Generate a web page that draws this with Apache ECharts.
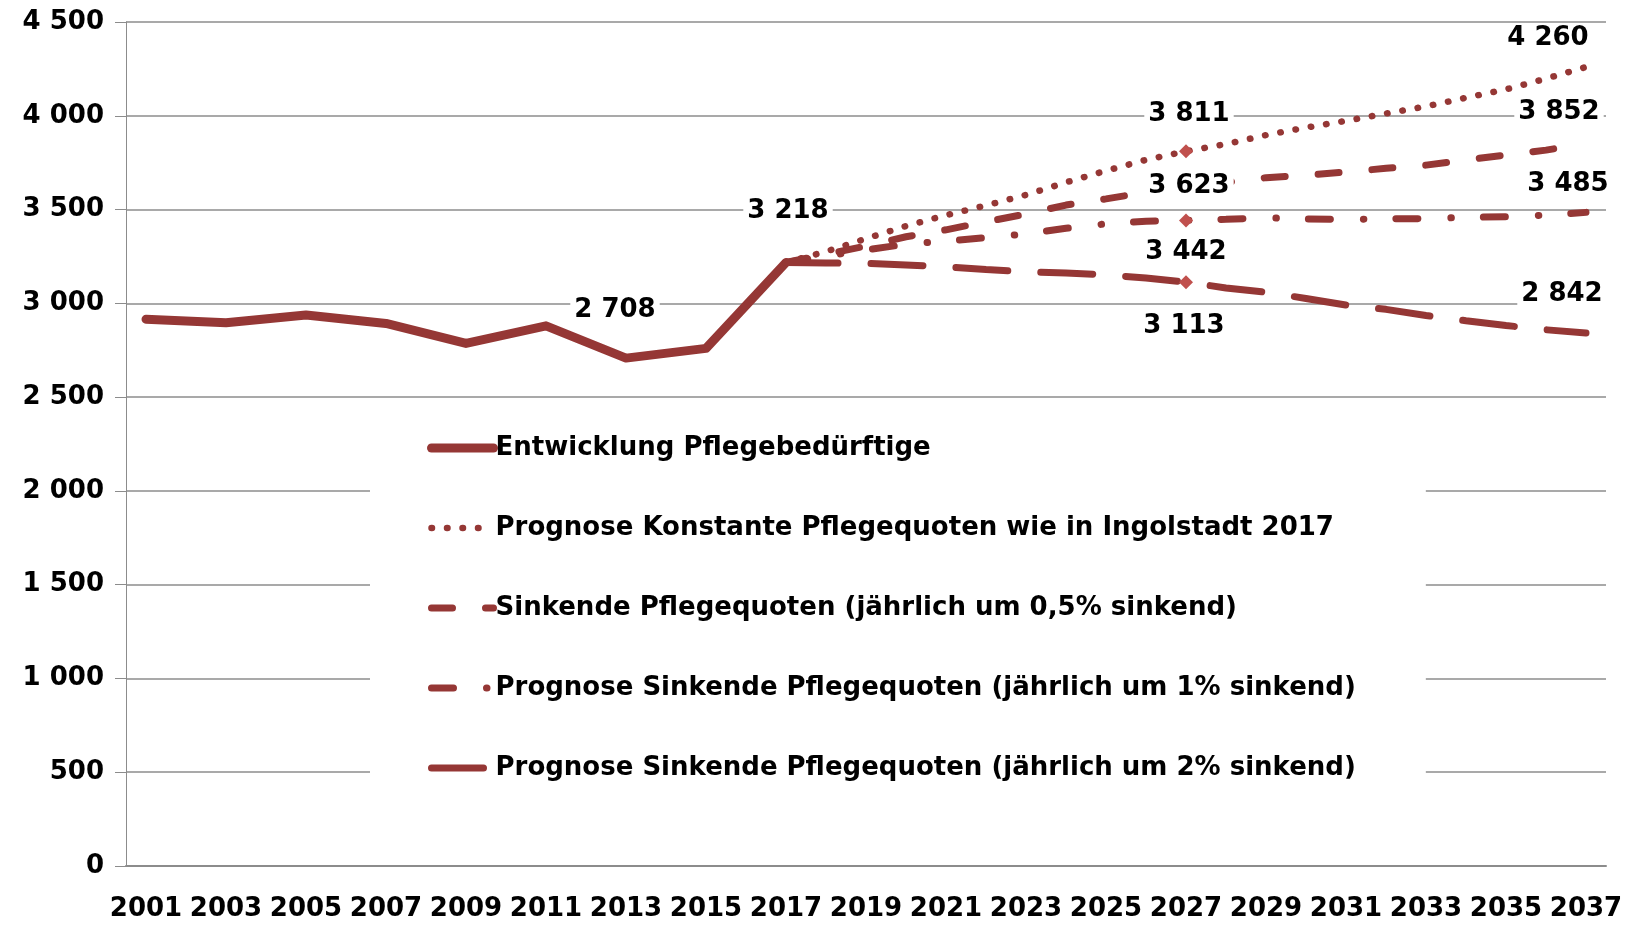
<!DOCTYPE html>
<html>
<head>
<meta charset="utf-8">
<script src="https://cdn.jsdelivr.net/npm/echarts@6/dist/echarts.min.js"></script>
<style>
  html, body { margin: 0; padding: 0; background: #fff; }
  #chart { width: 1626px; height: 928px; }
</style>
</head>
<body>
<div id="chart"></div>
<script>
// Pflegebedürftige Ingolstadt: Entwicklung 2001-2017 und Prognosen bis 2037
const years = ['2001', '2002', '2003', '2004', '2005', '2006', '2007', '2008', '2009', '2010',
  '2011', '2012', '2013', '2014', '2015', '2016', '2017', '2018', '2019', '2020',
  '2021', '2022', '2023', '2024', '2025', '2026', '2027', '2028', '2029', '2030',
  '2031', '2032', '2033', '2034', '2035', '2036', '2037'];

// Erhebung nur alle 2 Jahre
const histYears = ['2001', '2003', '2005', '2007', '2009', '2011', '2013', '2015', '2017'];
const histValues = [2915, 2896, 2938, 2893, 2786, 2880, 2708, 2760, 3218];

// Prognosen jährlich 2017..2037
const forecastYears = years.slice(years.indexOf('2017'));
const konstant = [3218, 3276, 3345, 3412, 3470, 3522, 3578, 3645, 3707, 3765, 3811,
  3849, 3897, 3937, 3973, 4012, 4050, 4096, 4141, 4198, 4260];
const sinkend05 = [3218, 3262, 3305, 3355, 3392, 3435, 3476, 3524, 3557, 3592, 3623,
  3645, 3670, 3683, 3700, 3720, 3737, 3765, 3791, 3817, 3852];
const sinkend1 = [3218, 3252, 3285, 3315, 3332, 3350, 3370, 3400, 3424, 3438, 3442,
  3448, 3456, 3450, 3448, 3450, 3452, 3458, 3462, 3470, 3485];
const sinkend2 = [3218, 3215, 3213, 3205, 3195, 3180, 3168, 3162, 3152, 3135, 3113,
  3082, 3059, 3026, 2991, 2968, 2935, 2907, 2882, 2859, 2842];

const seriesNames = [
  'Entwicklung Pflegebedürftige',
  'Prognose Konstante Pflegequoten wie in Ingolstadt 2017',
  'Sinkende Pflegequoten (jährlich um 0,5% sinkend)',
  'Prognose Sinkende Pflegequoten (jährlich um 1% sinkend)',
  'Prognose Sinkende Pflegequoten (jährlich um 2% sinkend)'
];

const yTicks = [0, 500, 1000, 1500, 2000, 2500, 3000, 3500, 4000, 4500];

const RED = '#953735';
const DIAMOND = '#c0504d';
const FONT = 'DejaVu Sans';

function fmt(v) {
  return String(v).replace(/\B(?=(\d{3})+(?!\d))/g, ' ');
}

// Werte auf die volle Jahresachse legen
function onAxis(xs, vals) {
  return years.map(y => {
    const i = xs.indexOf(y);
    return i < 0 ? null : vals[i];
  });
}

const histData = onAxis(histYears, histValues);
const fcData = [konstant, sinkend05, sinkend1, sinkend2].map(a => onAxis(forecastYears, a));
const allData = [histData].concat(fcData);

// beschriftete Punkte: [serie, jahr, versatz des labels, raute?]
const labelled = [
  [0, '2013', [-11, -48], false],
  [0, '2017', [2, -51], false],
  [1, '2027', [3, -37], true],
  [1, '2037', [-38, -29], false],
  [2, '2027', [3, 0], true],
  [2, '2037', [-27, -31], false],
  [3, '2027', [0, 32], true],
  [3, '2037', [-18, -28], false],
  [4, '2027', [-2, 44], true],
  [4, '2037', [-24, -39], false]
];

const markData = labelled.map(([s, y, off, dia]) => {
  const v = allData[s][years.indexOf(y)];
  return {
    value: [y, v],
    symbol: dia ? 'diamond' : 'circle',
    symbolSize: dia ? 14 : 0,
    label: { show: true, offset: off }
  };
});

const lineStyles = [
  { width: 9, type: 'solid', cap: 'round', join: 'round' },
  { width: 6.5, type: [0.5, 15], cap: 'round' },
  { width: 7, type: [21, 33], cap: 'round' },
  { width: 7, type: [22, 33, 0.5, 32], cap: 'round' },
  { width: 7, type: [52, 33], cap: 'round' }
];

const chart = echarts.init(document.getElementById('chart'));

const series = allData.map((d, i) => ({
  name: seriesNames[i],
  type: 'line',
  data: d,
  connectNulls: true,
  symbol: 'none',
  showSymbol: false,
  color: RED,
  lineStyle: Object.assign({ color: RED }, lineStyles[i]),
  z: 3,
  animation: false
}));

series.push({
  name: 'werte',
  type: 'scatter',
  data: markData,
  itemStyle: { color: DIAMOND, opacity: 1 },
  z: 5,
  animation: false,
  label: {
    show: false,
    position: 'inside',
    formatter: p => fmt(p.value[1]),
    color: '#000',
    opacity: 1,
    fontFamily: FONT,
    fontWeight: 'bold',
    fontSize: 26,
    backgroundColor: '#fff',
    padding: [1, 4]
  }
});

chart.setOption({
  backgroundColor: '#fff',
  animation: false,
  grid: { left: 126, right: 20, top: 22, bottom: 62 },
  legend: {
    data: seriesNames,
    orient: 'vertical',
    left: 370,
    top: 403,
    padding: [30, 70, 20, 57],
    backgroundColor: '#fff',
    itemWidth: 62,
    itemHeight: 12,
    itemGap: 50,
    z: 4,
    itemStyle: { opacity: 0 },
    lineStyle: { width: 'inherit' },
    textStyle: {
      fontFamily: FONT,
      fontWeight: 'bold',
      fontSize: 26,
      lineHeight: 30,
      color: '#000',
      padding: [0, 0, 0, -3]
    }
  },
  xAxis: {
    type: 'category',
    data: years,
    boundaryGap: true,
    axisLine: { lineStyle: { color: '#8c8c8c', width: 2 } },
    axisTick: { interval: 0, length: 11, lineStyle: { color: '#8c8c8c', width: 1 } },
    axisLabel: {
      interval: 1,
      margin: 30,
      hideOverlap: false,
      color: '#000',
      fontFamily: FONT,
      fontWeight: 'bold',
      fontSize: 26
    },
    splitLine: { show: false }
  },
  yAxis: {
    type: 'value',
    min: yTicks[0],
    max: yTicks[yTicks.length - 1],
    interval: 500,
    axisLine: { show: true, lineStyle: { color: '#8c8c8c', width: 1 } },
    axisTick: { show: true, length: 11, lineStyle: { color: '#8c8c8c', width: 1 } },
    axisLabel: {
      margin: 22,
      color: '#000',
      fontFamily: FONT,
      fontWeight: 'bold',
      fontSize: 26,
      formatter: v => fmt(v)
    },
    splitLine: { lineStyle: { color: '#8c8c8c', width: 1.5 } }
  },
  series: series
});
</script>
</body>
</html>
